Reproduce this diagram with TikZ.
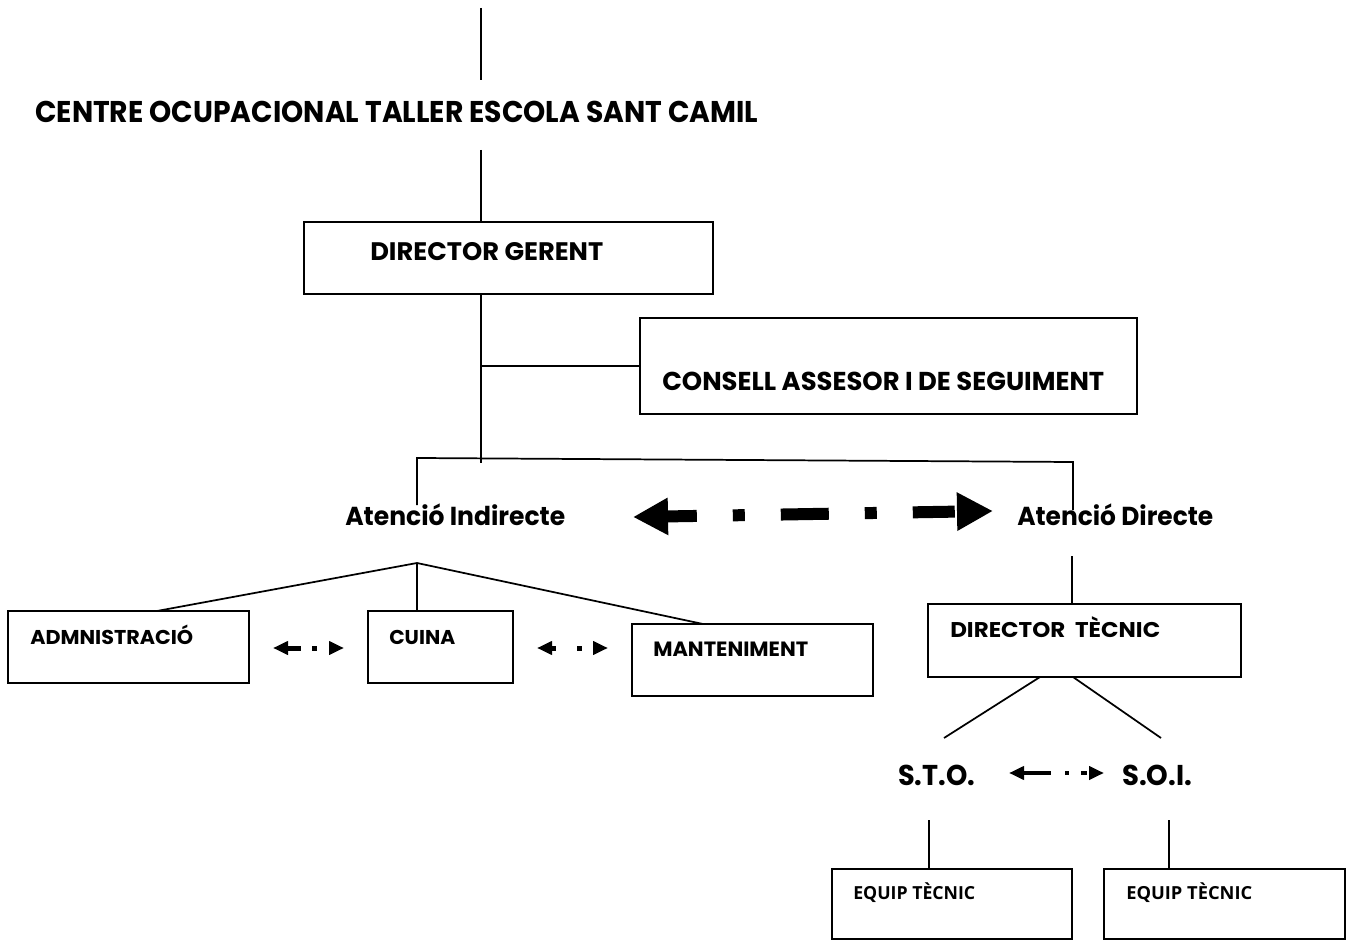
\documentclass[tikz,border=0pt]{standalone}
\usepackage{fontspec}
\usepackage{graphicx}
\setmainfont{Poppins}
\newfontfamily\equipfont{Open Sans}
\usetikzlibrary{arrows.meta,fit}
\newlength\fitlen
\newcommand\fitw[2]{\settowidth\fitlen{#2}\pgfmathsetmacro\fitfac{#1/\fitlen}\scalebox{\fitfac}[1]{#2}}
\begin{document}
\begin{tikzpicture}[x=0.75pt,y=-0.75pt,
  conn/.style={line width=1.3pt},
  box/.style={draw,line width=1.3pt,rectangle,inner sep=0pt},
  lbl/.style={inner sep=0pt,anchor=base west},
  bigarrow/.style={line width=9pt,{Triangle[length=26.25pt,width=26.25pt]}-{Triangle[length=27pt,width=27pt]}},
  smallarrow/.style={line width=3.75pt,{Triangle[length=11.25pt,width=9.75pt]}-{Triangle[length=11.25pt,width=9.75pt]}},
  thinarrow/.style={line width=3pt,{Triangle[length=11.25pt,width=9.75pt]}-{Triangle[length=11.25pt,width=9.75pt]}}
]
\useasboundingbox (0,0) rectangle (1354,941);

% boxes
\node[box,fit={(304,222) (713,294)}] (dg) {};
\node[box,fit={(640,318) (1137,414)}] (cons) {};
\node[box,fit={(8,611) (249,683)}] (adm) {};
\node[box,fit={(368,611) (513,683)}] (cuina) {};
\node[box,fit={(632,624) (873,696)}] (mant) {};
\node[box,fit={(928,604) (1241,677)}] (dt) {};
\node[box,fit={(832,869) (1072,939)}] (eq1) {};
\node[box,fit={(1104,869) (1345,939)}] (eq2) {};

% texts
\node[lbl,font=\fontsize{22.5}{27}\selectfont\bfseries] (title) at (35,123) {\fitw{542.25pt}{CENTRE OCUPACIONAL TALLER ESCOLA SANT CAMIL}};
\node[lbl,font=\fontsize{19}{23}\selectfont\bfseries] (dgt) at (370,261) {\fitw{174.75pt}{DIRECTOR GERENT}};
\node[lbl,font=\fontsize{19.4}{23}\selectfont\bfseries] (const) at (662,391) {\fitw{331.5pt}{CONSELL ASSESOR I DE SEGUIMENT}};
\node[lbl,font=\fontsize{19.5}{23}\selectfont\bfseries] (ati) at (345,525) {\fitw{165pt}{Atenció Indirecte}};
\node[lbl,font=\fontsize{19.5}{23}\selectfont\bfseries] (atd) at (1017,525) {\fitw{147pt}{Atenció Directe}};
\node[lbl,font=\fontsize{15}{18}\selectfont\bfseries] (admt) at (30,644) {\fitw{122.25pt}{ADMNISTRACIÓ}};
\node[lbl,font=\fontsize{15}{18}\selectfont\bfseries] (cuinat) at (389,644) {\fitw{49.5pt}{CUINA}};
\node[lbl,font=\fontsize{15.5}{18}\selectfont\bfseries] (mantt) at (653,656) {\fitw{116.25pt}{MANTENIMENT}};
\node[lbl,font=\fontsize{16}{19}\selectfont\bfseries] (dtt) at (950,637) {\fitw{157.5pt}{DIRECTOR~~TÈCNIC}};
\node[lbl,font=\fontsize{21.5}{25}\selectfont\bfseries] (sto) at (898,785) {\fitw{57.75pt}{S.T.O.}};
\node[lbl,font=\fontsize{21.5}{25}\selectfont\bfseries] (soi) at (1122,785) {\fitw{52.5pt}{S.O.I.}};
\node[lbl,font=\equipfont\fontsize{13.5}{16}\selectfont\bfseries] (eq1t) at (853,899) {\fitw{91.5pt}{EQUIP TÈCNIC}};
\node[lbl,font=\equipfont\fontsize{13.5}{16}\selectfont\bfseries] (eq2t) at (1126,899) {\fitw{94.5pt}{EQUIP TÈCNIC}};

% connector points
\coordinate (c0) at (481,8);
\coordinate (c1) at (481,80);
\coordinate (c2) at (481,150);
\coordinate (c3) at (481,463);
\coordinate (c4) at (481,366);
\coordinate (ia) at (417,505);
\coordinate (ib) at (417,458);
\coordinate (da) at (1073,462);
\coordinate (db) at (1073,510);
\coordinate (ap) at (417,563);
\coordinate (admtop) at (157,611);
\coordinate (manttop) at (703,624);
\coordinate (dtin) at (1072,556);
\coordinate (dtl) at (1040,677);
\coordinate (dtr) at (1073,677);
\coordinate (stoup) at (944,738);
\coordinate (soiup) at (1161,738);
\coordinate (e1) at (929,820);
\coordinate (e2) at (1169,820);

% connectors
\draw[conn] (c0) -- (c1);
\draw[conn] (c2) -- (c2 |- dg.north);
\draw[conn] (c2 |- dg.south) -- (c3);
\draw[conn] (c4) -- (cons.west);
\draw[conn] (ia) -- (ib) -- (da) -- (db);
\draw[conn] (ap) -- (admtop);
\draw[conn] (ap) -- (ap |- cuina.north);
\draw[conn] (ap) -- (manttop);
\draw[conn] (dtin) -- (dtin |- dt.north);
\draw[conn] (dtl) -- (stoup);
\draw[conn] (dtr) -- (soiup);
\draw[conn] (e1) -- (e1 |- eq1.north);
\draw[conn] (e2) -- (e2 |- eq2.north);

% arrows
\coordinate (ba) at (633,517);
\coordinate (bb) at (993,511);
\draw[bigarrow,dash pattern=on 23.25pt off 27pt on 9pt off 27pt on 36pt off 27pt on 9pt off 27pt on 31.5pt off 60pt] (ba) -- (bb);
\coordinate (s1a) at (273,648);
\coordinate (s1b) at (344,648);
\draw[smallarrow,dash pattern=on 10.5pt off 8.25pt on 3.75pt off 30pt] (s1a) -- (s1b);
\coordinate (s2a) at (537,648);
\coordinate (s2b) at (608,648);
\draw[smallarrow,dash pattern=on 3.75pt off 15.75pt on 3.75pt off 30pt] (s2a) -- (s2b);
\coordinate (s3a) at (1009,773);
\coordinate (s3b) at (1104,773);
\draw[thinarrow,dash pattern=on 21pt off 10.5pt on 3pt off 9pt on 4.5pt off 30pt] (s3a) -- (s3b);
\end{tikzpicture}
\end{document}
